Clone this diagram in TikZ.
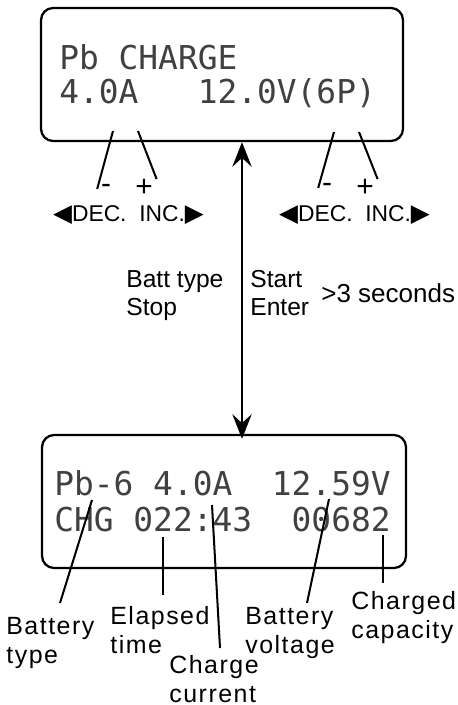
\documentclass[tikz,border=0pt]{standalone}
\usepackage{fontspec}
\setmainfont{Liberation Sans}
\newfontfamily\lcdfont{DejaVu Sans Mono}
\newfontfamily\symfont{DejaVu Sans}
\newfontfamily\wideface[LetterSpace=6]{Liberation Sans}
\usepackage{tikz}
\usetikzlibrary{calc}
\usetikzlibrary{arrows.meta}
\newcommand\lefttri[0]{{\symfont\fontsize{14pt}{14pt}\selectfont ◀}}
\newcommand\righttri[0]{{\symfont\fontsize{14pt}{14pt}\selectfont ▶}}

\tikzset{
  lcdbox/.style={draw, line width=1.3pt, rounded corners=0.24cm, minimum height=2.66cm, inner sep=0pt},
  lcdtext/.style={font=\lcdfont\fontsize{18.7pt}{19.35pt}\selectfont, text=black!75, align=left, inner sep=0pt, anchor=north west},
  leader/.style={line width=1.15pt},
  updown/.style={line width=1.15pt, >={Stealth[length=14pt,width=11pt,inset=5pt]}, <->},
  note/.style={font=\fontsize{14pt}{15.9pt}\selectfont, align=left, inner sep=0pt},
  keylbl/.style={font=\fontsize{13pt}{14pt}\selectfont, inner sep=0pt, anchor=base},
  sign/.style={font=\fontsize{17pt}{17pt}\selectfont, inner xsep=2pt, inner ysep=0pt},
  part/.style={font=\wideface\fontsize{14.2pt}{16.4pt}\selectfont, align=left, inner sep=0pt, anchor=north west}
}

\begin{document}
\begin{tikzpicture}[x=0.02cm, y=-0.02cm]
\useasboundingbox (0,0) rectangle (457,705);
% charge setup screen
\node[lcdbox, minimum width=7.24cm] (top) at (222,74.5) {};
\node[lcdtext] (toptext) at (59,44) {Pb CHARGE\\4.0A~~~12.0V(6P)};
\coordinate (decL) at (113,131);
\coordinate (incL) at (138,131);
\coordinate (decR) at (334,132);
\coordinate (incR) at (359,132);
\node[sign] (mL) at (106,189) {-};
\node[sign] (pL) at (144,188) {+};
\node[sign] (mR) at (327,188) {-};
\node[sign] (pR) at (365,188) {+};
\draw[leader] (decL) -- (mL.west);
\draw[leader] (incL) -- (pL.north east);
\draw[leader] (decR) -- (mR.west);
\draw[leader] (incR) -- (pR.north east);
\node[keylbl] (keysL) at (128.5,222) {\lefttri DEC.~~INC.\righttri};
\node[keylbl] (keysR) at (354.5,222) {\lefttri DEC.~~INC.\righttri};
% running screen
\node[lcdbox, minimum width=7.28cm] (bot) at (224,501.5) {};
\node[lcdtext, font=\lcdfont\fontsize{18.7pt}{20.5pt}\selectfont] (bottext) at (54,470) {Pb-6 4.0A~~12.59V\\CHG 022:43~~00682};
\draw[updown] ($(top.south)+(20,0)$) -- ($(bot.north)+(18,5)$);
\node[note, anchor=north west] (bstop) at (126,270) {Batt type\\Stop};
\node[note, anchor=north west] (senter) at (250,270) {Start\\Enter};
\node[note, anchor=base west, font=\fontsize{14.8pt}{16pt}\selectfont] (hold) at (321,302) {>3 seconds};
\coordinate (ptype) at (92,500);
\coordinate (ptime) at (163,537);
\coordinate (pcur) at (212,505);
\coordinate (pvolt) at (329,499);
\coordinate (pcap) at (383,535);
\node[part] (btype) at (6,617) {Battery\\type};
\node[part] (etime) at (110,606) {Elapsed\\time};
\node[part] (ccur) at (169,655) {Charge\\current};
\node[part] (bvolt) at (245,607) {Battery\\voltage};
\node[part] (ccap) at (351,591) {Charged\\capacity};
\draw[leader] (ptype) -- ($(btype.north west)+(54,-14)$);
\draw[leader] (ptime) -- ($(etime.north west)+(53,-11)$);
\draw[leader] (pcur) -- ($(ccur.north west)+(51,-7)$);
\draw[leader] (pvolt) -- ($(bvolt.north west)+(62,-4)$);
\draw[leader] (pcap) -- ($(ccap.north west)+(32,-8)$);
\end{tikzpicture}
\end{document}
